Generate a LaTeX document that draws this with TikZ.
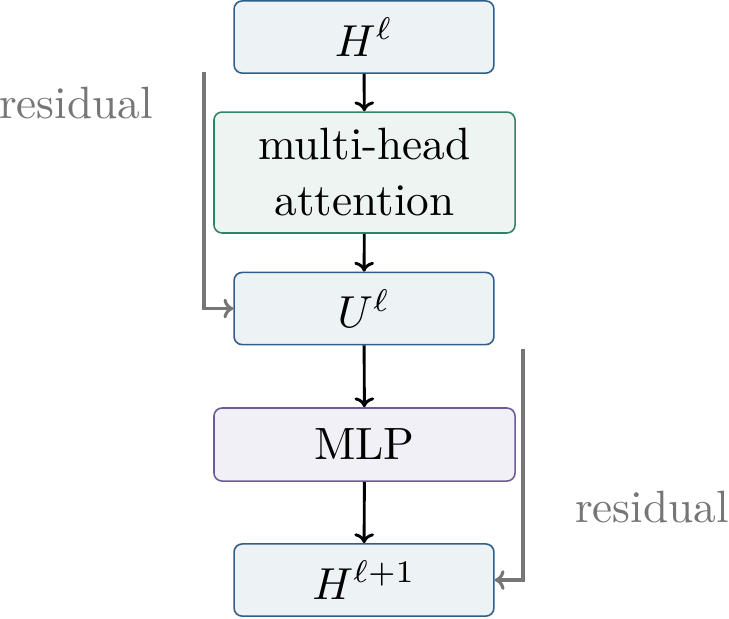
\documentclass[tikz,border=0pt]{standalone}
\usetikzlibrary{arrows.meta}
\definecolor{blueB}{HTML}{2F5E8C}
\definecolor{blueF}{HTML}{EDF2F5}
\definecolor{greenB}{HTML}{2E8466}
\definecolor{greenF}{HTML}{EDF4F1}
\definecolor{purpB}{HTML}{6E5A96}
\definecolor{purpF}{HTML}{F1F0F6}
\definecolor{resgray}{HTML}{767676}
\tikzset{
  boxbase/.style={rectangle, rounded corners=1.8pt, line width=0.35pt, inner sep=0pt, align=center, font=\fontsize{10.1}{12.5}\selectfont},
  bluebox/.style={boxbase, draw=blueB, fill=blueF, minimum width=58.0pt, minimum height=16.1pt},
  greenbox/.style={boxbase, draw=greenB, fill=greenF, minimum width=67.2pt, minimum height=27.0pt},
  purpbox/.style={boxbase, draw=purpB, fill=purpF, minimum width=67.2pt, minimum height=16.3pt},
  flow/.style={-{Computer Modern Rightarrow[length=2.2pt,width=4.4pt]}, line width=0.65pt, black},
  resline/.style={-{Computer Modern Rightarrow[length=2.2pt,width=4.4pt]}, line width=0.7pt, resgray},
  reslabel/.style={text=resgray, font=\fontsize{10.1}{12}\selectfont, inner sep=0pt}
}
\begin{document}
\begin{tikzpicture}[x=0.2232pt, y=-0.2232pt]
\useasboundingbox (0,0) rectangle (729,618);
\node[bluebox] (h) at (364,37) {$H^{\ell}$};
\node[greenbox] (mha) at (364.5,172.5) {multi-head\\attention};
\node[bluebox] (u) at (364,308.5) {$U^{\ell}$};
\node[purpbox] (mlp) at (364.5,444.5) {MLP};
\node[bluebox] (h2) at (364,580) {$H^{\ell+1}$};
\draw[flow] (h) -- (mha);
\draw[flow] (mha) -- (u);
\draw[flow] (u) -- (mlp);
\draw[flow] (mlp) -- (h2);
\coordinate (ls) at (204,72);
\coordinate (rs) at (523,349);
\draw[resline] (ls) |- (u.west);
\draw[resline] (rs) |- (h2.east);
\node[reslabel] (rl) at (76,103) {residual};
\node[reslabel] (rr) at (652,507) {residual};
\end{tikzpicture}
\end{document}
